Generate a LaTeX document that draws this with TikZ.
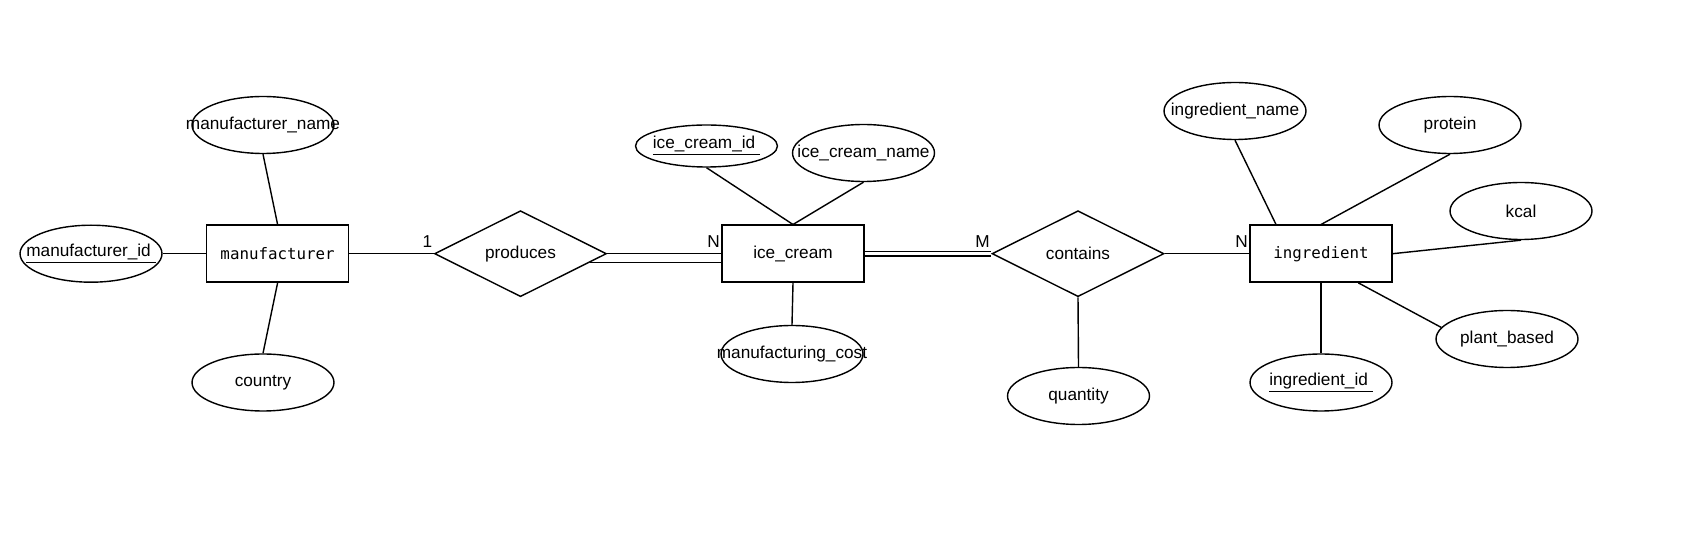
\documentclass[tikz,border=0pt]{standalone}
\usepackage{fontspec}
\setmainfont{Liberation Sans}
\newfontfamily\ermono{DejaVu Sans Mono}
\usetikzlibrary{shapes.geometric}
\newcommand{\attrtext}[1]{\makebox[0pt]{#1}}

\begin{document}
\begin{tikzpicture}[x=0.02cm, y=-0.02cm, line width=0.8pt,
  every node/.style={font=\fontsize{9.8}{12}\selectfont},
  entity/.style={draw, rectangle, minimum width=2.84cm, minimum height=1.14cm, inner sep=0pt},
  code/.style={font=\ermono\fontsize{9}{11}\selectfont},
  attribute/.style={draw, ellipse, minimum width=2.84cm, minimum height=1.14cm, inner sep=0pt},
  relation/.style={draw, diamond, aspect=2, minimum width=3.44cm, minimum height=1.72cm, inner sep=0pt},
  card/.style={anchor=south east, inner xsep=0.5pt, inner ysep=3pt}]
\useasboundingbox (0,0) rectangle (1704,553);

\node[entity, code] (manufacturer) at (277.6,253.7) {manufacturer};
\node[attribute] (mname) at (263,125) {\attrtext{manufacturer\_name}};
\node[attribute] (mid) at (91,253.7) {\attrtext{\underline{manufacturer\_id\ }}};
\node[attribute] (country) at (263,382.5) {\attrtext{country}};

\node[relation] (produces) at (520.5,253.7) {produces};

\node[entity] (icecream) at (793,253.7) {ice\_cream};
\node[attribute, minimum height=0.84cm] (icid) at (706.5,146) {\attrtext{\underline{ice\_cream\_id\ }}};
\node[attribute] (icname) at (863.5,153) {\attrtext{ice\_cream\_name}};
\node[attribute] (mcost) at (792,354) {\attrtext{manufacturing\_cost}};

\node[relation] (contains) at (1078,253.7) {contains};
\node[attribute] (quantity) at (1078.5,396) {\attrtext{quantity}};

\node[entity, code] (ingredient) at (1321,253.7) {ingredient};
\node[attribute] (iname) at (1235,111) {\attrtext{ingredient\_name}};
\node[attribute] (protein) at (1450,125) {\attrtext{protein}};
\node[attribute] (kcal) at (1521,211) {\attrtext{kcal}};
\node[attribute] (plantb) at (1507,339) {\attrtext{plant\_based}};
\node[attribute] (iid) at (1321,382.5) {\attrtext{\underline{ingredient\_id\ }}};

\node[card] (c1) at (produces.west) {1};
\node[card] (c2) at (icecream.west) {N};
\node[card] (c3) at (contains.west) {M};
\node[card] (c4) at (ingredient.west) {N};

\draw (mname.south) -- (manufacturer.north);
\draw (mid.east) -- (manufacturer.west);
\draw (country.north) -- (manufacturer.south);
\draw (manufacturer.east) -- (produces.west);
\draw (produces.east) -- (icecream.west);
\draw (produces.-7.6) -- (produces.-7.6 -| icecream.west);
\draw (icid.south) -- (icecream.north);
\draw (icname.south) -- (icecream.north);
\draw (mcost.north) -- (icecream.south);
\draw[double, double distance=2pt] (icecream.east) -- (contains.west);
\draw (contains.south) -- (quantity.north);
\draw (contains.east) -- (ingredient.west);
\draw (iname.south) -- (ingredient.147);
\draw (protein.south) -- (ingredient.north);
\draw (kcal.south) -- (ingredient.east);
\draw (plantb.170) -- (ingredient.-38);
\draw (iid.north) -- (ingredient.south);
\end{tikzpicture}
\end{document}
